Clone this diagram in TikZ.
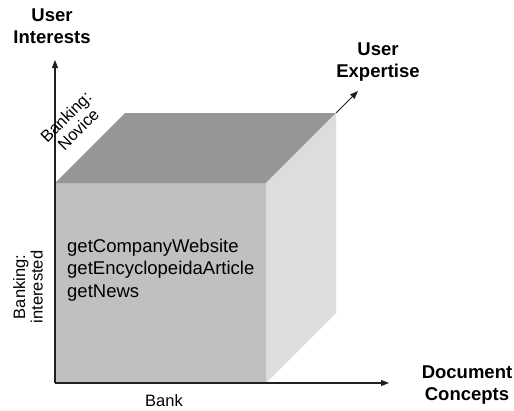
\documentclass[tikz,border=0pt]{standalone}
\usepackage{fontspec}
\setmainfont{Liberation Sans}
\usetikzlibrary{arrows.meta}

\definecolor{frontgray}{HTML}{C0C0C0}
\definecolor{topgray}{HTML}{969696}
\definecolor{sidegray}{HTML}{DDDDDD}
\definecolor{axisgray}{HTML}{202020}

\newcommand{\biglabel}{\fontsize{18.5}{22.5}\selectfont}
\newcommand{\smalllabel}{\fontsize{16.5}{17.5}\selectfont}

\begin{document}
\begin{tikzpicture}[x=1pt,y=-1pt,inner sep=0pt,
    axis/.style={draw=axisgray, line width=1.3pt, -{Triangle[length=8pt,width=6pt]}},
    axislabel/.style={font=\biglabel\bfseries, align=center},
    ticklabel/.style={font=\smalllabel, align=center}]
        \useasboundingbox (0,0) rectangle (514,410);

        % faces of the cube
        \fill [frontgray] (55,183) rectangle (266,383);
        \fill [topgray] (55,183) -- (125,113) -- (336,113) -- (266,183) -- cycle;
        \fill [sidegray] (266,183) -- (336,113) -- (336,313) -- (266,383) -- cycle;

        \coordinate (origin) at (55,383);
        \coordinate (yend) at (55,60);
        \coordinate (xend) at (389,383);
        \coordinate (corner) at (336,113);
        \coordinate (zend) at (358,91);

        \draw [axis] (origin) -- (yend);
        \draw [axis] (origin) -- (xend);
        \draw [axis, line width=1pt] (corner) -- (zend);

        \node [axislabel] (interests) at (52,26) {User\\Interests};
        \node [axislabel] (expertise) at (378,62) {User\\Expertise};
        \node [axislabel] (concepts) at (467,385) {Document\\Concepts};

        \node [ticklabel] (bank) at (164,401) {Bank};
        \node [ticklabel, rotate=90] (interested) at (28,287) {Banking:\\interested};
        \node [ticklabel, rotate=45] (novice) at (72,123) {Banking:\\Novice};

        \node [font=\biglabel, align=left, anchor=west] (services) at (67,270)
            {getCompanyWebsite\\getEncyclopeidaArticle\\getNews};
\end{tikzpicture}
\end{document}
